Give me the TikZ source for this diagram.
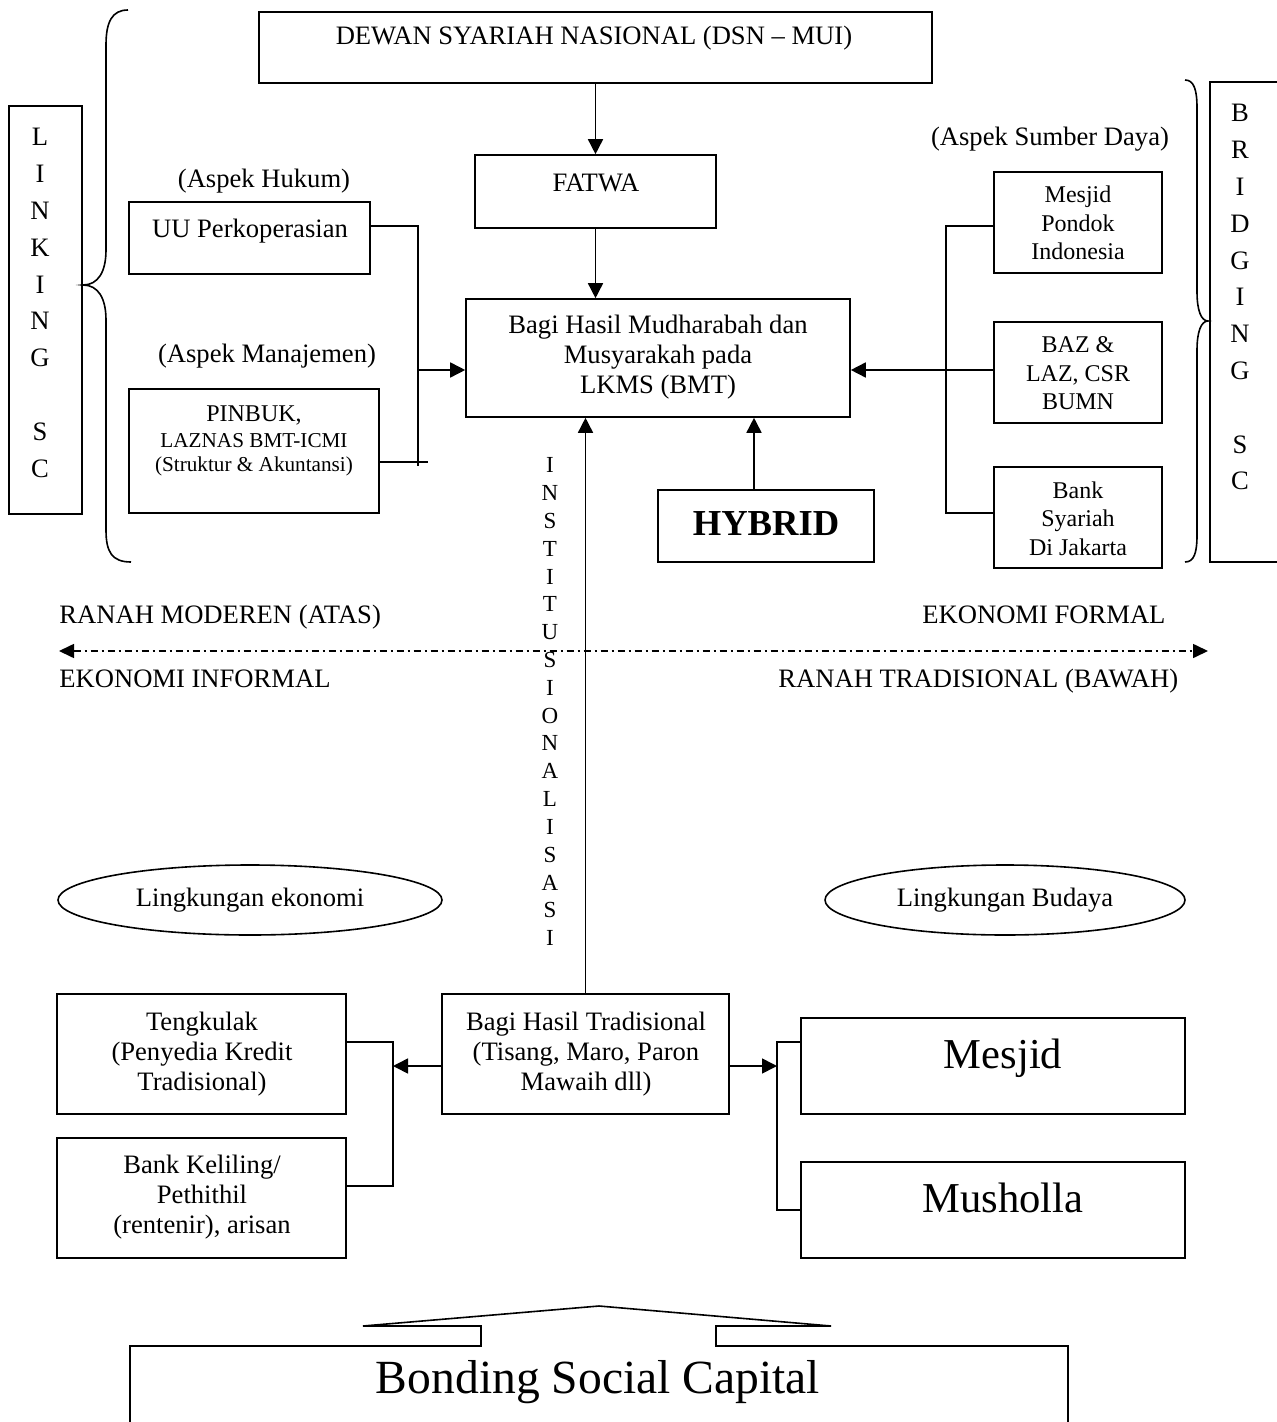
\documentclass[tikz,border=0pt]{standalone}
\usepackage{fontspec}
\setmainfont{Liberation Serif}
\usetikzlibrary{arrows.meta,shapes.geometric,fit}
\newcommand{\mlines}[1]{\begin{tabular}[t]{@{}c@{}}#1\end{tabular}}
\begin{document}
\begin{tikzpicture}[x=0.5pt,y=-0.5pt,
  box/.style={draw,line width=0.8pt,inner sep=0pt,fit={#1}},
  ln/.style={line width=0.8pt},
  arr/.style={line width=0.8pt,-{Triangle[length=7.5pt,width=7.5pt]}},
  txt/.style={inner sep=0pt,anchor=base,font=\fontsize{13.3}{15}\selectfont},
  stxt/.style={inner sep=0pt,anchor=base,font=\fontsize{12}{14.25}\selectfont},
  xstxt/.style={inner sep=0pt,anchor=base,font=\fontsize{10.6}{12.5}\selectfont},
  vert/.style={inner sep=0pt,anchor=base,font=\fontsize{13.3}{18.4}\selectfont},
  vsmall/.style={inner sep=0pt,anchor=base,font=\fontsize{11.5}{13.9}\selectfont},
  big/.style={inner sep=0pt,anchor=base,font=\fontsize{21.3}{24}\selectfont},
  ell/.style={draw,line width=0.8pt,ellipse,inner sep=0pt,font=\fontsize{13.3}{15}\selectfont}
]
\useasboundingbox (0,0) rectangle (1277,1422);

% ---------- boxes ----------
\node[box={(259,12)(932,83)}] (dsn) {};
\node[box={(475,155)(716,228)}] (fatwa) {};
\node[box={(129,202)(370,274)}] (uu) {};
\node[box={(129,389)(379,513)}] (pin) {};
\node[box={(466,299)(850,417)}] (bmt) {};
\node[box={(658,490)(874,562)}] (hyb) {};
\node[box={(994,172)(1162,273)}] (mpi) {};
\node[box={(994,322)(1162,423)}] (baz) {};
\node[box={(994,467)(1162,568)}] (bank) {};
\node[box={(9,106)(82,514)}] (link) {};
\node[box={(1210,82)(1295,562)}] (bridge) {};
\node[box={(57,994)(346,1114)}] (teng) {};
\node[box={(57,1138)(346,1258)}] (bk) {};
\node[box={(442,994)(729,1114)}] (trad) {};
\node[box={(801,1018)(1185,1114)}] (mesjid) {};
\node[box={(801,1162)(1185,1258)}] (mus) {};

% ---------- texts ----------
\node[txt] (dsnT) at (594,45) {DEWAN SYARIAH NASIONAL (DSN – MUI)};
\node[txt] (fatwaT) at (596,192) {FATWA};
\node[txt] (hukum) at (264,188) {(Aspek Hukum)};
\node[txt] (uuT) at (250,238) {UU Perkoperasian};
\node[txt] (manaj) at (267,363) {(Aspek Manajemen)};
\node[stxt] (pinA) at (254,422) {PINBUK,};
\node[xstxt] (pinB) at (254,447) {LAZNAS BMT-ICMI};
\node[xstxt] (pinC) at (254,472) {(Struktur \& Akuntansi)};
\node[txt] (bmtT) at (658,334) {\mlines{Bagi Hasil Mudharabah dan\\Musyarakah pada\\LKMS (BMT)}};
\node[inner sep=0pt,anchor=base,font=\bfseries\fontsize{18.3}{20}\selectfont] (hybT) at (766,535) {HYBRID};
\node[txt] (sumber) at (1050,146) {(Aspek Sumber Daya)};
\node[stxt] (mpiT) at (1078,203) {\mlines{Mesjid\\Pondok\\Indonesia}};
\node[stxt] (bazT) at (1078,353) {\mlines{BAZ \&\\LAZ, CSR\\BUMN}};
\node[stxt] (bankT) at (1078,498) {\mlines{Bank\\Syariah\\Di Jakarta}};
\node[vert] (linkT) at (40,146) {\mlines{L\\I\\N\\K\\I\\N\\G\\ \\S\\C}};
\node[vert] (bridgeT) at (1240,122) {\mlines{B\\R\\I\\D\\G\\I\\N\\G\\ \\S\\C}};
\node[vsmall] (inst) at (550,473) {\mlines{I\\N\\S\\T\\I\\T\\U\\S\\I\\O\\N\\A\\L\\I\\S\\A\\S\\I}};

\node[txt,anchor=base west] (ranahA) at (59,623) {RANAH MODEREN (ATAS)};
\node[txt,anchor=base west] (ekoF) at (922,623) {EKONOMI FORMAL};
\node[txt,anchor=base west] (ekoI) at (59,687) {EKONOMI INFORMAL};
\node[txt,anchor=base west] (ranahB) at (778,687) {RANAH TRADISIONAL (BAWAH)};

\node[ell,minimum width=192pt,minimum height=35pt] (lek) at (250,900) {Lingkungan ekonomi};
\node[ell,minimum width=180pt,minimum height=35pt] (lbud) at (1005,900) {Lingkungan Budaya};

\node[txt] (tengT) at (202,1030) {\mlines{Tengkulak\\(Penyedia Kredit\\Tradisional)}};
\node[txt] (bkT) at (202,1173) {\mlines{Bank Keliling/\\Pethithil\\(rentenir), arisan}};
\node[txt] (tradT) at (586,1030) {\mlines{Bagi Hasil Tradisional\\(Tisang, Maro, Paron\\Mawaih dll)}};
\node[big] (mesjidT) at (1003,1068) {Mesjid};
\node[big] (musT) at (1003,1212) {Musholla};

% ---------- braces ----------
\draw[ln] (128,10) .. controls (112,10) and (106,22) .. (106,45) -- (106,250)
  .. controls (106,272) and (98,285) .. (83,285)
  .. controls (98,285) and (106,298) .. (106,320) -- (106,530)
  .. controls (106,552) and (112,562) .. (131,562);
\draw[ln] (1185,80) .. controls (1194,80) and (1197,90) .. (1197,108) -- (1197,292)
  .. controls (1197,310) and (1201,321) .. (1208,321)
  .. controls (1201,321) and (1197,332) .. (1197,350) -- (1197,535)
  .. controls (1197,553) and (1194,562) .. (1185,562);

% ---------- connectors ----------
\draw[arr] (dsn.south) -- (fatwa.north);
\draw[arr] (fatwa.south) -- (fatwa.south |- bmt.north);

\coordinate (lt) at (418,226);
\coordinate (lm) at (418,370);
\coordinate (lb) at (418,466);
\coordinate (lk) at (428,462);
\draw[ln] (uu.east |- lt) -- (lt) -- (lb);
\draw[ln] (pin.east |- lk) -- (lk);
\draw[arr] (lm) -- (lm -| bmt.west);

\coordinate (rt) at (946,226);
\coordinate (rm) at (946,370);
\coordinate (rb) at (946,513);
\draw[ln] (mpi.west |- rt) -- (rt) -- (rb) -- (rb -| bank.west);
\draw[ln] (baz.west |- rm) -- (rm);
\draw[arr] (rm) -- (rm -| bmt.east);

\draw[arr] ([xshift=-6pt]hyb.north) -- ([xshift=-6pt]hyb.north |- bmt.south);
\draw[arr] (trad.north) -- (trad.north |- bmt.south);

\coordinate (dl) at (59,651);
\coordinate (dr) at (1208,651);
\draw[line width=0.8pt,dash pattern=on 3.5pt off 2pt on 1pt off 2pt,
  {Triangle[length=7.5pt,width=7pt]}-{Triangle[length=7.5pt,width=7pt]}] (dl) -- (dr);

\coordinate (ljt) at (393,1042);
\coordinate (ljm) at (393,1066);
\coordinate (ljb) at (393,1186);
\draw[arr] (trad.west |- ljm) -- (ljm);
\draw[ln] (teng.east |- ljt) -- (ljt) -- (ljb) -- (ljb -| bk.east);

\coordinate (rjt) at (777,1042);
\coordinate (rjm) at (777,1066);
\coordinate (rjb) at (777,1210);
\draw[arr] (trad.east |- rjm) -- (rjm);
\draw[ln] (mesjid.west |- rjt) -- (rjt) -- (rjb) -- (rjb -| mus.west);

% ---------- bonding social capital ----------
\draw[ln] (130,1440) -- (130,1346) -- (481,1346) -- (481,1326) -- (363,1326)
  -- (599,1306) -- (831,1326) -- (716,1326) -- (716,1346) -- (1068,1346) -- (1068,1440);
\node[inner sep=0pt,anchor=base,font=\fontsize{23.8}{26}\selectfont] (bond) at (598,1393) {Bonding Social Capital};
\end{tikzpicture}
\end{document}
